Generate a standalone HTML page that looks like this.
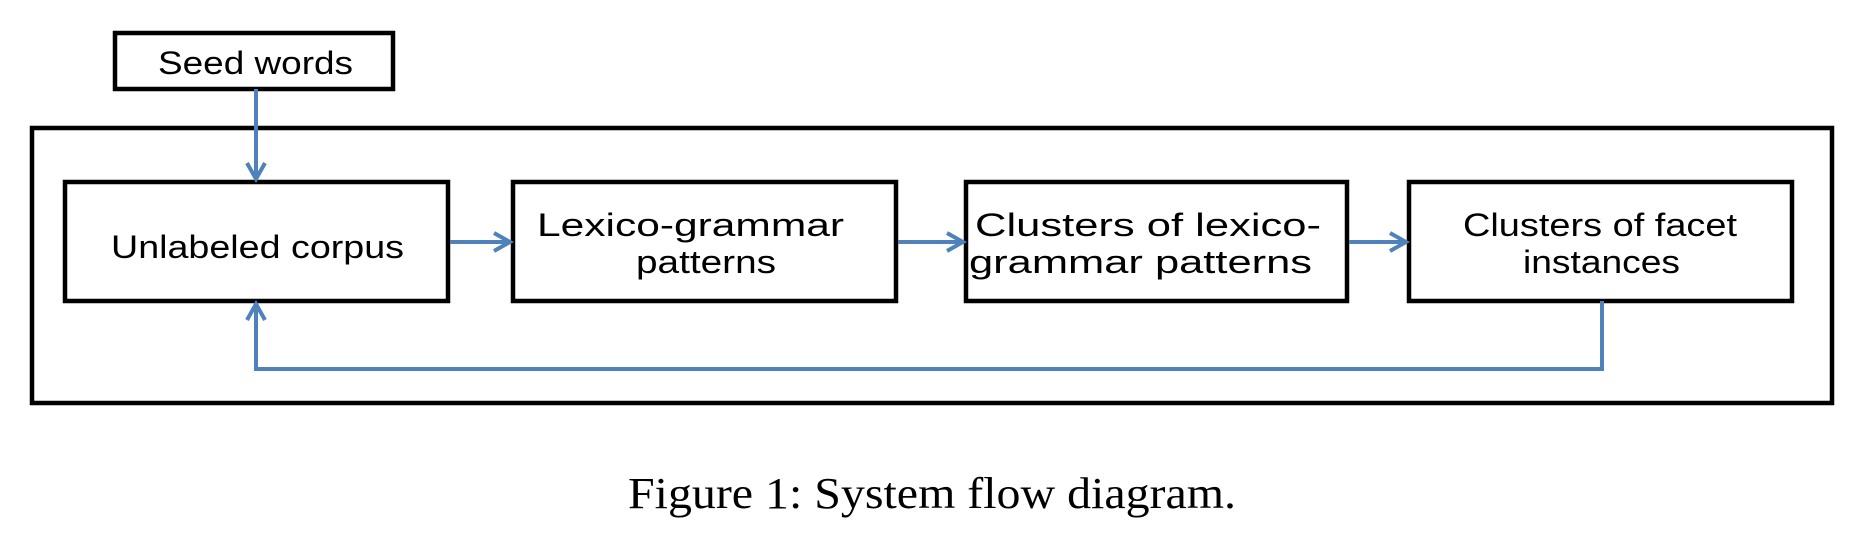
<!DOCTYPE html>
<html><head><meta charset="utf-8"><style>html,body{margin:0;padding:0;background:#fff}</style></head>
<body>
<svg width="1858" height="540" viewBox="0 0 1858 540" xmlns="http://www.w3.org/2000/svg">
<defs>
<marker id="a" viewBox="0 0 12 12" refX="10" refY="6" markerWidth="6" markerHeight="6" orient="auto" markerUnits="strokeWidth">
<path d="M2,1.5 L10,6 L2,10.5" fill="none" stroke="#4f81bd" stroke-width="2"/>
</marker>
</defs>
<g fill="none" stroke="#000" stroke-width="4.5">
<rect x="115" y="33" width="278" height="56"/>
<rect x="32" y="128" width="1800" height="275"/>
<rect x="65" y="182" width="383" height="119"/>
<rect x="513" y="182" width="383" height="119"/>
<rect x="966" y="182" width="381" height="119"/>
<rect x="1409" y="182" width="383" height="119"/>
</g>
<g fill="none" stroke="#4f81bd" stroke-width="4">
<path d="M256 89 V179" marker-end="url(#a)"/>
<path d="M450 242 H510" marker-end="url(#a)"/>
<path d="M898 242 H963" marker-end="url(#a)"/>
<path d="M1349 242 H1406" marker-end="url(#a)"/>
<path d="M1602 301 V369 H256 V304" marker-end="url(#a)"/>
</g>
<g font-family="Liberation Sans, sans-serif" font-size="32" fill="#000" text-anchor="start">
<text x="158" y="74" textLength="195" lengthAdjust="spacingAndGlyphs">Seed words</text>
<text x="111" y="258" textLength="293" lengthAdjust="spacingAndGlyphs">Unlabeled corpus</text>
<text x="537" y="236" textLength="307" lengthAdjust="spacingAndGlyphs">Lexico-grammar</text>
<text x="636" y="273" textLength="140" lengthAdjust="spacingAndGlyphs">patterns</text>
<text x="975" y="236" textLength="346" lengthAdjust="spacingAndGlyphs">Clusters of lexico-</text>
<text x="969" y="273" textLength="343" lengthAdjust="spacingAndGlyphs">grammar patterns</text>
<text x="1463" y="236" textLength="274" lengthAdjust="spacingAndGlyphs">Clusters of facet</text>
<text x="1523" y="273" textLength="157" lengthAdjust="spacingAndGlyphs">instances</text>
</g>
<text x="628" y="508" font-family="Liberation Serif, serif" font-size="44" textLength="608" lengthAdjust="spacingAndGlyphs">Figure 1: System flow diagram.</text>
</svg>
</body></html>
